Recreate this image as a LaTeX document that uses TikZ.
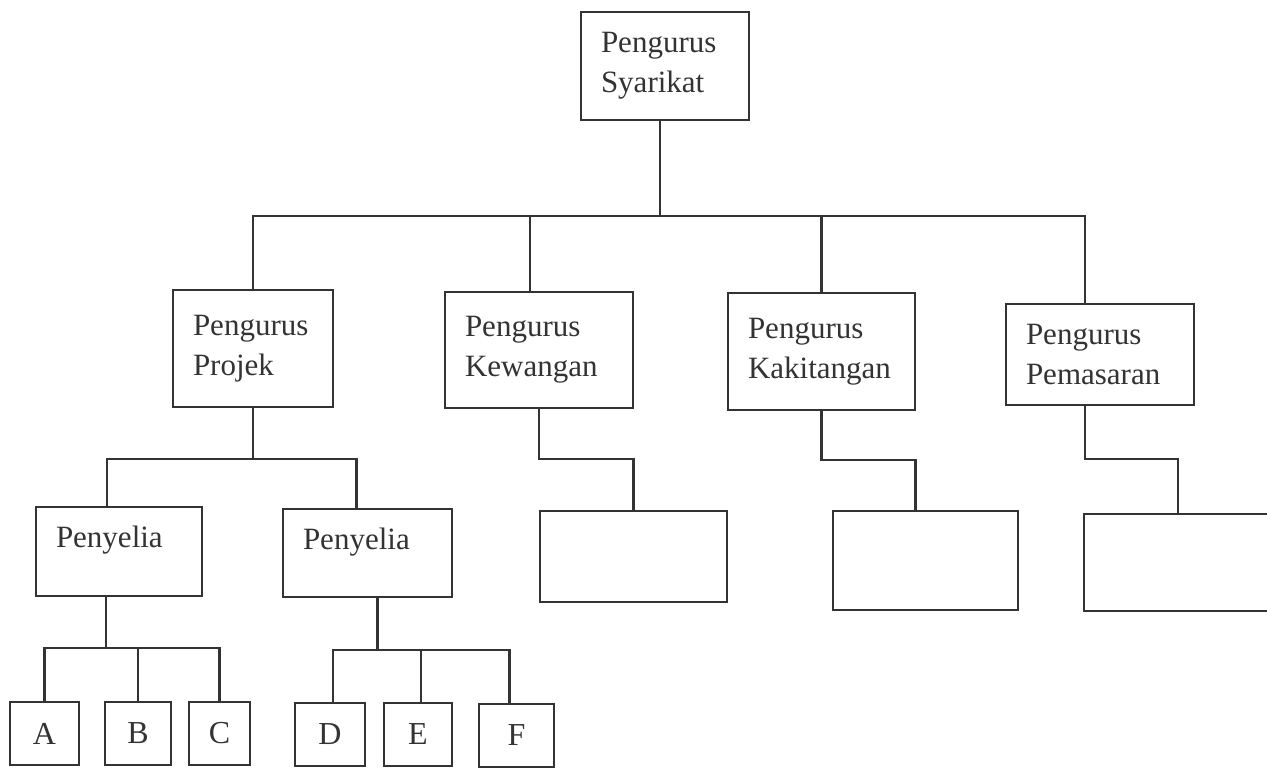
\documentclass[tikz,border=0pt]{standalone}
\usepackage{fontspec}
\setmainfont{Liberation Serif}
\tikzset{
  kotak/.style={draw=black!80, line width=2.6pt, anchor=north west, align=left, outer sep=0pt,
    inner xsep=20pt, inner ysep=0pt, text=black!80, font=\fontsize{31}{40}\selectfont},
  huruf/.style={draw=black!80, line width=2.6pt, anchor=north west, inner sep=0pt, outer sep=0pt,
    text=black!80, font=\fontsize{32}{40}\selectfont},
  garis/.style={draw=black!80, line width=2.2pt}
}
\begin{document}
\begin{tikzpicture}[x=1pt,y=-1pt]
  \useasboundingbox (0,0) rectangle (1267,770);
  \clip (0,0) rectangle (1267,770);
  % peringkat atas
  \node[kotak, text width=128pt, minimum height=108pt] (syarikat) at (581,12) {Pengurus\\Syarikat};
  % ketua bahagian
  \node[kotak, text width=120pt, minimum height=117pt] (projek) at (173,290) {Pengurus\\Projek};
  \node[kotak, text width=148pt, minimum height=116pt] (kewangan) at (445,292) {Pengurus\\Kewangan};
  \node[kotak, text width=147pt, minimum height=117pt] (kakitangan) at (728,293) {Pengurus\\Kakitangan};
  \node[kotak, text width=148pt, minimum height=101pt] (pemasaran) at (1006,304) {Pengurus\\Pemasaran};
  % penyelia dan kotak kosong
  \node[kotak, text width=126pt, minimum height=89pt, text depth=29pt] (penyelia1) at (36,507) {Penyelia};
  \node[kotak, text width=129pt, minimum height=88pt, text depth=29pt] (penyelia2) at (283,509) {Penyelia};
  \node[kotak, minimum width=187pt, minimum height=91pt] (kosong1) at (540,511) {};
  \node[kotak, minimum width=185pt, minimum height=99pt] (kosong2) at (833,511) {};
  \node[kotak, minimum width=188pt, minimum height=97pt] (kosong3) at (1084,514) {};
  % pekerja
  \node[huruf, minimum width=69pt, minimum height=63pt] (a) at (10,702) {A};
  \node[huruf, minimum width=66pt, minimum height=63pt] (b) at (105,702) {B};
  \node[huruf, minimum width=61pt, minimum height=63pt] (c) at (189,702) {C};
  \node[huruf, minimum width=70pt, minimum height=63pt] (d) at (295,703) {D};
  \node[huruf, minimum width=68pt, minimum height=63pt] (e) at (384,703) {E};
  \node[huruf, minimum width=75pt, minimum height=63pt] (f) at (479,704) {F};

  % garisan
  \coordinate (palang) at (660,216);
  \draw[garis] ([xshift=-5pt]syarikat.south) -- (palang);
  \draw[garis] (projek.north) |- (palang) -| ([xshift=-15pt]pemasaran.north);
  \draw[garis] ([xshift=-9pt]kewangan.north) |- (palang);
  \draw[garis] (kakitangan.north) |- (palang);

  \coordinate (cabangP) at (253,459);
  \draw[garis] (projek.south) -- (cabangP);
  \draw[garis] ([xshift=-12pt]penyelia1.north) |- (cabangP) -| ([xshift=-11pt]penyelia2.north);

  \coordinate (cabangA) at (106,648);
  \draw[garis] ([xshift=-13pt]penyelia1.south) -- (cabangA);
  \draw[garis] (a.north) |- (cabangA) -| (c.north);
  \draw[garis] (b.north) |- (cabangA);

  \coordinate (cabangD) at (377.5,650);
  \draw[garis] ([xshift=10pt]penyelia2.south) -- (cabangD);
  \draw[garis] ([xshift=3pt]d.north) |- (cabangD) -| ([xshift=-7pt]f.north);
  \draw[garis] ([xshift=3pt]e.north) |- (cabangD);

  \draw[garis] (kewangan.south) -- ++(0,51) -| (kosong1.north);
  \draw[garis] (kakitangan.south) -- ++(0,50) -| ([xshift=-10pt]kosong2.north);
  \draw[garis] ([xshift=-15pt]pemasaran.south) -- ++(0,54) -| (kosong3.north);
\end{tikzpicture}
\end{document}
